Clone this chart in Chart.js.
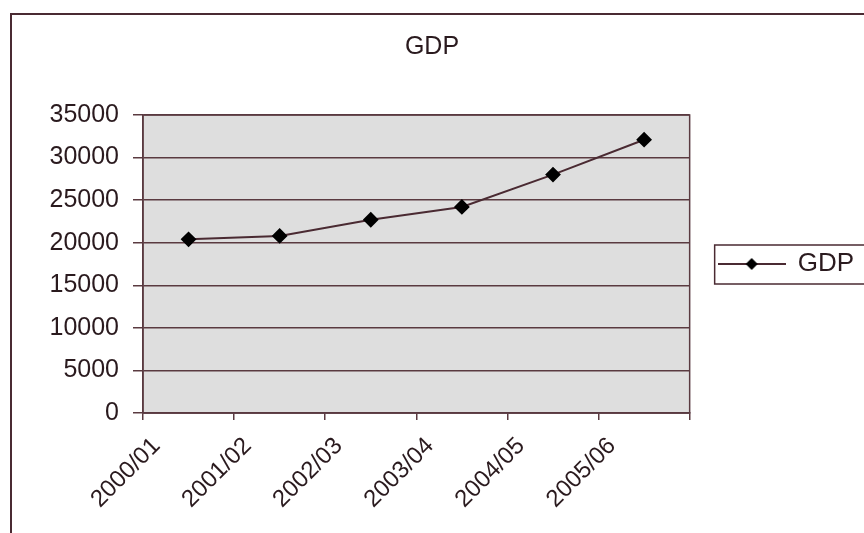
<!DOCTYPE html>
<html>
<head>
<meta charset="utf-8">
<script src="https://cdn.jsdelivr.net/npm/chart.js@4/dist/chart.umd.min.js"></script>
<style>
  html, body { margin: 0; padding: 0; background: #fff; }
  #wrap { position: relative; width: 864px; height: 533px; overflow: hidden; }
  #frame { position: absolute; left: 10px; top: 13px; width: 900px; height: 600px;
           border-left: 2px solid #4a2a32; border-top: 2px solid #4a2a32; }
  canvas { position: absolute; left: 0; top: 0; }
</style>
</head>
<body>
<div id="wrap">
  <div id="frame"></div>
  <canvas id="c" width="864" height="533"></canvas>
</div>
<script>
// GDP by fiscal year
const years = ['2000/01', '2001/02', '2002/03', '2003/04', '2004/05', '2005/06'];
const gdp = [20400, 20800, 22700, 24200, 28000, 32100];
const yTicks = [0, 5000, 10000, 15000, 20000, 25000, 30000, 35000];

const INK = '#2a1a1e', LINE = '#4a2a32', GRID = '#5a3a40', PLOT = '#dedede';
const FONT = "'Liberation Sans', Arial, sans-serif";

// legend sample: line with a diamond in the middle, like Excel's
function legendSample() {
  const c = document.createElement('canvas');
  c.width = 68; c.height = 16;
  const g = c.getContext('2d');
  g.strokeStyle = LINE; g.lineWidth = 2;
  g.beginPath(); g.moveTo(0, 8); g.lineTo(68, 8); g.stroke();
  g.fillStyle = '#000';
  g.beginPath(); g.moveTo(34, 2); g.lineTo(40, 8); g.lineTo(34, 14); g.lineTo(28, 8); g.closePath(); g.fill();
  return c;
}

const plotFrame = {
  id: 'plotFrame',
  beforeDraw(chart) {
    const a = chart.chartArea, ctx = chart.ctx;
    ctx.save();
    ctx.fillStyle = PLOT;
    ctx.fillRect(a.left, a.top, a.right - a.left, a.bottom - a.top);
    ctx.restore();
  },
  beforeDatasetsDraw(chart) {
    const a = chart.chartArea, ctx = chart.ctx;
    ctx.save();
    ctx.strokeStyle = GRID; ctx.lineWidth = 1.5;
    ctx.strokeRect(a.left, a.top, a.right - a.left, a.bottom - a.top);
    ctx.restore();
  },
  afterDraw(chart) {
    const hb = chart.legend && chart.legend.legendHitBoxes && chart.legend.legendHitBoxes[0];
    if (!hb) return;
    const ctx = chart.ctx;
    ctx.save();
    ctx.strokeStyle = LINE; ctx.lineWidth = 1.5;
    const cy = hb.top + hb.height / 2;
    ctx.strokeRect(hb.left - 4, cy - 19, 200, 39);
    ctx.restore();
  }
};

const sample = legendSample();

new Chart(document.getElementById('c'), {
  type: 'line',
  data: {
    labels: years,
    datasets: [{
      label: 'GDP',
      data: gdp,
      borderColor: LINE,
      borderWidth: 2,
      pointStyle: 'rectRot',
      pointRadius: 6.5,
      pointBackgroundColor: '#000',
      pointBorderColor: '#000',
      tension: 0,
      fill: false
    }]
  },
  options: {
    responsive: false,
    animation: false,
    layout: { padding: { left: 0, right: 0, top: 0, bottom: 0 } },
    plugins: {
      title: {
        display: true, text: 'GDP', color: INK,
        font: { family: FONT, size: 25, weight: 'normal' },
        padding: { top: 32, bottom: 53 }
      },
      legend: {
        display: true, position: 'right', fullSize: false,
        labels: {
          color: INK, padding: 29,
          font: { family: FONT, size: 26 },
          usePointStyle: true, pointStyleWidth: 66,
          generateLabels(chart) {
            return chart.data.datasets.map((d, i) => ({
              text: d.label, pointStyle: sample, fillStyle: '#000',
              strokeStyle: LINE, lineWidth: 0, datasetIndex: i, fontColor: INK
            }));
          }
        }
      },
      tooltip: { enabled: false }
    },
    scales: {
      x: {
        offset: true,
        grid: { offset: true, drawOnChartArea: false, color: GRID, tickLength: 7, lineWidth: 1.5 },
        border: { color: GRID, width: 1.5 },
        ticks: {
          color: INK, font: { family: FONT, size: 24 },
          minRotation: 45, maxRotation: 45, autoSkip: false, labelOffset: -32, padding: 12
        },
        afterFit(s) { s.height = 120; }
      },
      y: {
        min: 0, max: 35000,
        afterBuildTicks(s) { s.ticks = yTicks.map(v => ({ value: v })); },
        grid: { color: GRID, lineWidth: 1.5, tickLength: 10 },
        border: { color: GRID, width: 1.5 },
        ticks: { color: INK, font: { family: FONT, size: 25 }, padding: 14, callback: v => String(v) },
        afterFit(s) { s.width = 143; }
      }
    }
  },
  plugins: [plotFrame]
});
</script>
</body>
</html>
